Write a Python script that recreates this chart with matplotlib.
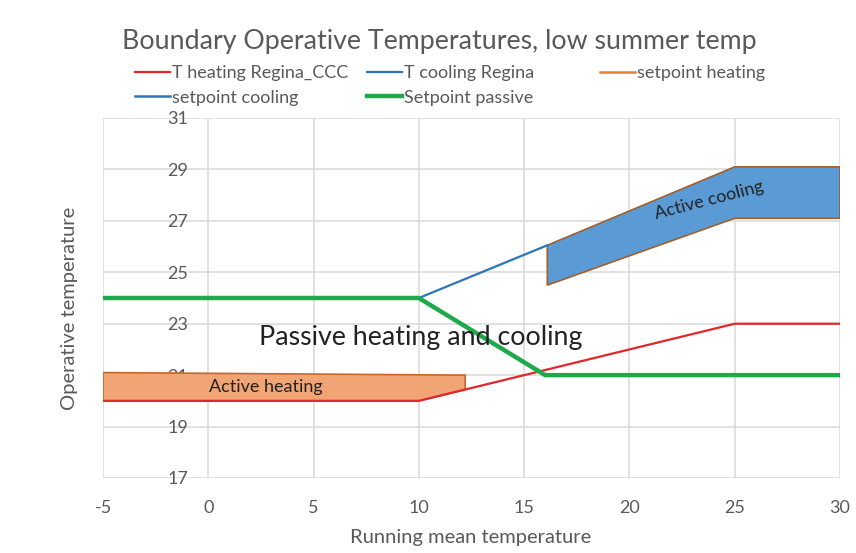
import matplotlib.pyplot as plt
from matplotlib.patches import Polygon

plt.rcParams['font.family'] = ['Lato', 'DejaVu Sans']
plt.rcParams['axes.unicode_minus'] = False

# running mean temperature breakpoints and line values
x_heat = [-5, 10, 25, 30]
t_heating = [20, 20, 23, 23]
x_cool = [10, 16.1]
t_cooling = [24, 26.05]
x_passive = [-5, 10, 16, 30]
setpoint_passive = [24, 24, 21, 21]

# active heating zone (setpoint heating upper edge)
heat_zone_x = [-5, 12.2, 12.2, 10, -5]
heat_zone_y = [21.1, 21.0, 20.44, 20, 20]
# active cooling zone (setpoint cooling band)
cool_zone_x = [16.1, 25, 30, 30, 25, 16.1]
cool_zone_y = [26.05, 29.1, 29.1, 27.1, 27.1, 24.5]

x_ticks = [-5, 0, 5, 10, 15, 20, 25, 30]
y_ticks = [17, 19, 21, 23, 25, 27, 29, 31]

red = '#E3262A'
blue = '#2E75B6'
orange = '#ED7D31'
green = '#1EAA4A'
grey = '#595959'

fig = plt.figure(figsize=(8.56, 5.53), dpi=100)
ax = fig.add_axes([103 / 856, 75 / 553, 737 / 856, 360 / 553])

ax.add_patch(Polygon(list(zip(heat_zone_x, heat_zone_y)), closed=True,
                     facecolor='#F1A474', edgecolor='#C9652A', lw=1.2, zorder=2))
ax.add_patch(Polygon(list(zip(cool_zone_x, cool_zone_y)), closed=True,
                     facecolor='#5B9BD5', edgecolor='#A0602E', lw=1.2, zorder=2))

h_heat, = ax.plot(x_heat, t_heating, color=red, lw=1.6, zorder=3)
h_cool, = ax.plot(x_cool, t_cooling, color=blue, lw=1.6, zorder=3)
h_sph, = ax.plot([], [], color=orange, lw=1.8)
h_spc, = ax.plot([], [], color=blue, lw=1.8)
h_pas, = ax.plot(x_passive, setpoint_passive, color=green, lw=3.2, zorder=4)

ax.text(10.1, 22.48, 'Passive heating and cooling', fontsize=19.3, color='#222222',
        ha='center', va='center', zorder=5)
ax.text(2.72, 20.54, 'Active heating', fontsize=13, color='#222222',
        ha='center', va='center', zorder=5)
ax.text(23.8, 27.81, 'Active cooling', fontsize=13, color='#222222',
        ha='center', va='center', rotation=14.5, zorder=5)

ax.set_xlim(-5, 30)
ax.set_ylim(17, 31)
ax.set_xticks(x_ticks)
ax.set_yticks(y_ticks)
# value axis crosses at x = 0 like the Excel original
ax.spines['left'].set_position(('data', 0))
for s in ax.spines.values():
    s.set_visible(False)
ax.tick_params(length=0, labelsize=13, labelcolor=grey)
ax.tick_params(axis='x', pad=16)
ax.tick_params(axis='y', pad=14.4)
ax.grid(True, color='#D9D9D9', lw=1.1)
ax.set_axisbelow(True)

ax.set_xlabel('Running mean temperature', fontsize=14.5, color=grey)
ax.xaxis.set_label_coords((471 - 103) / 737, -(537 - 478) / 360)
ax.xaxis.label.set_verticalalignment('center')
ax.set_ylabel('Operative temperature', fontsize=14.5, color=grey)
ax.yaxis.set_label_coords(-33 / 737, (478 - 308) / 360)
ax.yaxis.label.set_verticalalignment('center')

fig.text(439 / 856, 1 - 42 / 553, 'Boundary Operative Temperatures, low summer temp',
         fontsize=19.3, color=grey, ha='center', va='center')

leg_kw = dict(loc='upper left', frameon=False, fontsize=13, handlelength=1.95,
              handletextpad=0.1, labelspacing=0.48, borderpad=0, borderaxespad=0,
              labelcolor=grey)
top = 1 - 65 / 553
fig.legend([h_heat, h_spc], ['T heating Regina_CCC', 'setpoint cooling'],
           bbox_to_anchor=(135 / 856, top), **leg_kw)
fig.legend([h_cool, h_pas], ['T cooling Regina', 'Setpoint passive'],
           bbox_to_anchor=(367 / 856, top), **leg_kw)
fig.legend([h_sph], ['setpoint heating'],
           bbox_to_anchor=(600 / 856, top), **leg_kw)

fig.savefig('out.png', dpi=100)
